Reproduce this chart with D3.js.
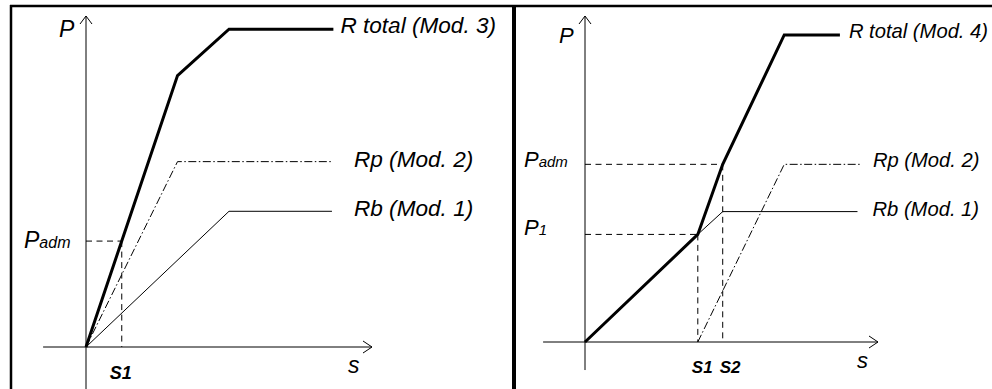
<!DOCTYPE html>
<html>
<head>
<meta charset="utf-8">
<script src="https://cdn.jsdelivr.net/npm/d3@7"></script>
<style>
  html, body { margin: 0; padding: 0; background: #fff; }
  svg { display: block; }
  text { font-family: "Liberation Sans", Arial, sans-serif; font-style: italic; fill: #000; }
</style>
</head>
<body>
<svg id="chart" width="992" height="389"></svg>
<script>
// ---- Left diagram: bearing (Mod. 1), friction (Mod. 2), total (Mod. 3) ----
const leftRb     = [[0, 0], [5.0, 4.1], [8.6, 4.1]];
const leftRp     = [[0, 0], [3.2, 5.6], [8.6, 5.6]];
const leftRtotal = [[0, 0], [3.2, 8.2], [5.0, 9.6], [8.65, 9.6]];
const leftS1 = 1.25;
const leftPadm = 3.2;
const leftLabels = ["R total (Mod. 3)", "Rp (Mod. 2)", "Rb (Mod. 1)"];

// ---- Right diagram: friction mobilised after s1, total (Mod. 4) ----
const rightRb     = [[0, 0], [3.85, 3.3], [4.7, 4.0], [9.3, 4.0]];
const rightRp     = [[3.85, 0], [6.8, 5.45], [9.45, 5.45]];
const rightRtotal = [[0, 0], [3.85, 3.3], [4.7, 5.45], [6.8, 9.42], [8.7, 9.42]];
const rightS1 = 3.85, rightS2 = 4.7;
const rightP1 = 3.3, rightPadm = 5.45;
const rightLabels = ["R total (Mod. 4)", "Rp (Mod. 2)", "Rb (Mod. 1)"];

const svg = d3.select("#chart");

// Outer frame: top rule, left rule and the divider between the two diagrams
const frame = svg.append("g").attr("stroke", "#000").attr("fill", "none");
frame.append("line").attr("x1", 10).attr("x2", 992).attr("y1", 6).attr("y2", 6).attr("stroke-width", 2.5);
frame.append("line").attr("x1", 11).attr("x2", 11).attr("y1", 5).attr("y2", 389).attr("stroke-width", 2.5);
frame.append("line").attr("x1", 514).attr("x2", 514).attr("y1", 5).attr("y2", 389).attr("stroke-width", 4);

function drawPanel(cfg) {
  const x = d3.scaleLinear().domain([0, 10]).range(cfg.xRange);
  const y = d3.scaleLinear().domain([0, 10]).range(cfg.yRange);
  const g = svg.append("g");
  const line = d3.line().x(d => x(d[0])).y(d => y(d[1]));

  // Axes with open arrow heads
  const ax = g.append("g").attr("stroke", "#000").attr("stroke-width", 1).attr("fill", "none");
  ax.append("line").attr("x1", x(0)).attr("x2", x(0)).attr("y1", y(cfg.yExtent[0])).attr("y2", y(cfg.yExtent[1]));
  ax.append("line").attr("x1", x(cfg.xExtent[0])).attr("x2", x(cfg.xExtent[1])).attr("y1", y(0)).attr("y2", y(0));
  const ty = y(cfg.yExtent[1]), tx = x(cfg.xExtent[1]);
  ax.append("path").attr("d", `M${x(0) - 6},${ty + 8}L${x(0)},${ty}L${x(0) + 6},${ty + 8}`);
  ax.append("path").attr("d", `M${tx - 9},${y(0) - 6}L${tx},${y(0)}L${tx - 9},${y(0) + 6}`);

  // Dashed guide lines
  const dash = g.append("g").attr("stroke", "#000").attr("stroke-width", 1).attr("stroke-dasharray", "6,4.5").attr("fill", "none");
  cfg.guides.forEach(gd => {
    dash.append("path").attr("d", line([[0, gd.p], [gd.s, gd.p]]));
    dash.append("path").attr("d", line([[gd.s, gd.p], [gd.s, 0]]));
  });

  // Resistance curves
  g.append("path").attr("d", line(cfg.rb)).attr("fill", "none").attr("stroke", "#000").attr("stroke-width", 1);
  g.append("path").attr("d", line(cfg.rp)).attr("fill", "none").attr("stroke", "#000").attr("stroke-width", 1)
    .attr("stroke-dasharray", "8,2.5,1.5,2.5");
  g.append("path").attr("d", line(cfg.rt)).attr("fill", "none").attr("stroke", "#000").attr("stroke-width", 3)
    .attr("stroke-linejoin", "miter");

  // Curve labels
  const series = [cfg.rt, cfg.rp, cfg.rb];
  series.forEach((s, i) => {
    const last = s[s.length - 1];
    g.append("text").attr("x", x(last[0]) + cfg.labelDx[i]).attr("y", y(last[1]) + cfg.labelDy[i])
      .attr("font-size", cfg.labelSize).text(cfg.labels[i]);
  });

  // Axis titles
  g.append("text").attr("x", x(0) + cfg.pTitle[0]).attr("y", y(10) + cfg.pTitle[1]).attr("font-size", cfg.titleSize).text("P");
  g.append("text").attr("x", x(10) + cfg.sTitle[0]).attr("y", y(0) + cfg.sTitle[1]).attr("font-size", cfg.titleSize).text("s");

  // Load level labels (P with subscript)
  cfg.loadLabels.forEach(l => {
    const t = g.append("text").attr("x", l.x).attr("y", y(l.p) + l.dy).attr("font-size", cfg.titleSize);
    t.append("tspan").text("P");
    t.append("tspan").attr("font-size", cfg.subSize).text(l.sub);
  });

  // Settlement labels
  cfg.settleLabels.forEach(l => {
    g.append("text").attr("x", x(l.s) + l.dx).attr("y", y(0) + l.dy)
      .attr("font-size", cfg.sLabelSize).attr("font-weight", "bold").text(l.text);
  });
}

drawPanel({
  xRange: [86, 372], yRange: [347, 16],
  xExtent: [-1.5, 10], yExtent: [-1.35, 10],
  rb: leftRb, rp: leftRp, rt: leftRtotal,
  labels: leftLabels, labelSize: 22.6,
  labelDx: [7, 22, 22], labelDy: [4, 5, 5],
  guides: [{ s: leftS1, p: leftPadm }],
  titleSize: 23, subSize: 16,
  pTitle: [-27, 21], sTitle: [-24, 26],
  loadLabels: [{ x: 24, p: leftPadm, sub: "adm", dy: 7 }],
  sLabelSize: 18,
  settleLabels: [{ s: leftS1, text: "S1", dx: -12, dy: 32 }]
});

drawPanel({
  xRange: [585, 878], yRange: [342, 16],
  xExtent: [-1.43, 10], yExtent: [-0.86, 10],
  rb: rightRb, rp: rightRp, rt: rightRtotal,
  labels: rightLabels, labelSize: 20.2,
  labelDx: [9, 11, 15], labelDy: [3, 3, 4],
  guides: [{ s: rightS1, p: rightP1 }, { s: rightS2, p: rightPadm }],
  titleSize: 22, subSize: 15,
  pTitle: [-26, 27], sTitle: [-21, 26],
  loadLabels: [{ x: 524, p: rightPadm, sub: "adm", dy: 3 }, { x: 524, p: rightP1, sub: "1", dy: 1 }],
  sLabelSize: 17,
  settleLabels: [{ s: rightS1, text: "S1", dx: -6, dy: 31 }, { s: rightS2, text: "S2", dx: -3, dy: 31 }]
});
</script>
</body>
</html>
